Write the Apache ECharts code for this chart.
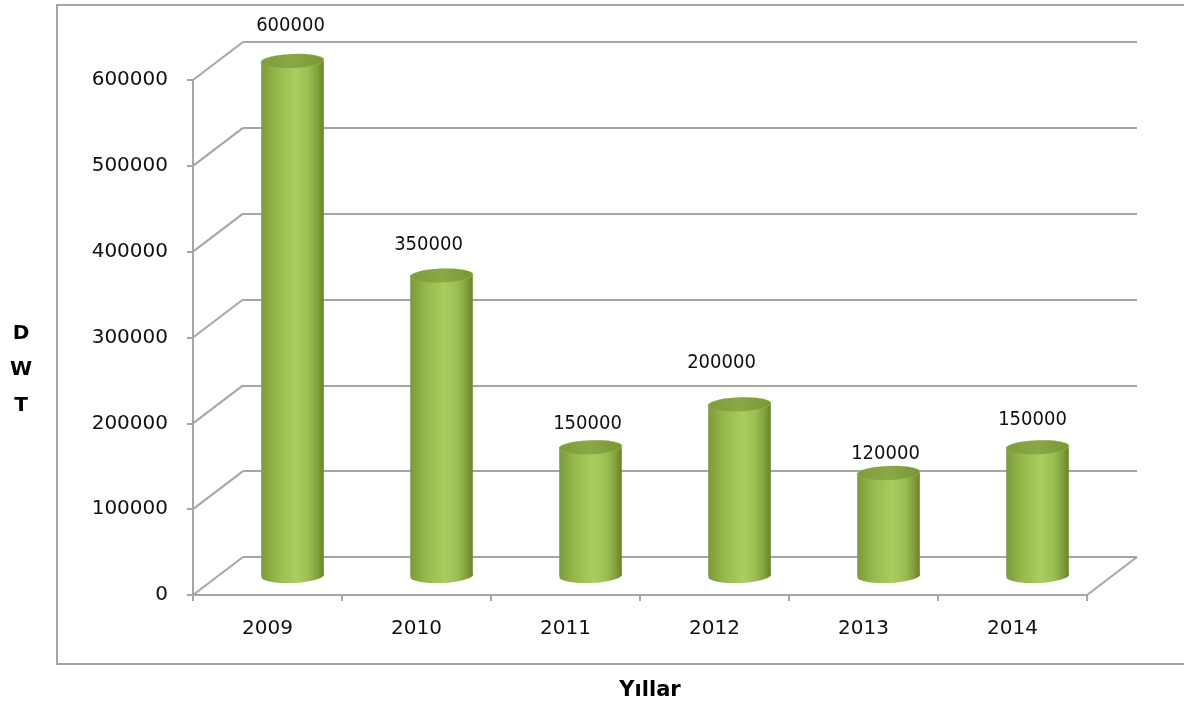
<!DOCTYPE html>
<html><head><meta charset="utf-8">
<script src="https://cdn.jsdelivr.net/npm/echarts@6/dist/echarts.min.js"></script>
<style>html,body{margin:0;padding:0;background:#fff}#chart{width:1184px;height:711px}</style>
</head><body><div id="chart"></div>
<script>
// ---- data ----
const categories = ['2009', '2010', '2011', '2012', '2013', '2014'];
const dwtValues = [600000, 350000, 150000, 200000, 120000, 150000];
const yTickValues = [0, 100000, 200000, 300000, 400000, 500000, 600000];
const xAxisTitle = 'Yıllar';
const yAxisTitle = 'D\nW\nT';

// ---- layout / style ----
const FRONT = { left: 193, right: 97, top: 80, bottom: 116 };
const DEPTH = { dx: 50, dy: -38 };
const BACK = { left: FRONT.left + DEPTH.dx, right: FRONT.right - DEPTH.dx, top: FRONT.top + DEPTH.dy, bottom: FRONT.bottom - DEPTH.dy };
const labelShift = [[-2, -35], [-13, -31], [-3, -23], [-18, -42], [-3, -19], [-5, -27]];
const GRID_COLOR = '#a6a6a6';
const TILT = 0.04;

const chart = echarts.init(document.getElementById('chart'), null, { renderer: 'canvas' });

function renderDiagonals(params, api) {
  const v = api.value(0);
  const cs = params.coordSys;
  const y = api.coord([0, v])[1];
  const style = { stroke: GRID_COLOR, lineWidth: 2, fill: null };
  const children = [{ type: 'line', shape: { x1: cs.x, y1: y, x2: cs.x + DEPTH.dx, y2: y + DEPTH.dy }, style }];
  if (v === 0) {
    children.push({ type: 'line', shape: { x1: cs.x + cs.width, y1: y, x2: cs.x + cs.width + DEPTH.dx, y2: y + DEPTH.dy }, style });
  }
  return { type: 'group', children };
}

function renderCylinder(params, api) {
  const i = api.value(0), v = api.value(1);
  const top = api.coord([i, v]);
  const base = api.coord([i, 0]);
  const cx = top[0] + DEPTH.dx / 2;
  const yT = top[1] + DEPTH.dy / 2;
  const yB = base[1] + DEPTH.dy / 2;
  const rx = api.size([1, 0])[0] * 0.21;
  const ry = 7;
  const bodyGrad = new echarts.graphic.LinearGradient(0, 0, 1, 0, [
    { offset: 0, color: '#7b9b38' },
    { offset: 0.25, color: '#96b94b' },
    { offset: 0.55, color: '#a9cd5e' },
    { offset: 0.75, color: '#9cbf54' },
    { offset: 0.9, color: '#82a13c' },
    { offset: 1, color: '#67812c' }
  ]);
  const topGrad = new echarts.graphic.LinearGradient(0, 0, 1, 0, [
    { offset: 0, color: '#7e9c3b' },
    { offset: 0.5, color: '#8aa944' },
    { offset: 1, color: '#7a9537' }
  ]);
  const sh = labelShift[i];
  return {
    type: 'group',
    children: [
      { type: 'circle', shape: { cx: 0, cy: 0, r: rx }, x: cx, y: yB, scaleY: ry / rx, rotation: TILT, style: { fill: bodyGrad } },
      { type: 'rect', shape: { x: cx - rx, y: yT, width: rx * 2, height: yB - yT }, style: { fill: bodyGrad } },
      { type: 'circle', shape: { cx: 0, cy: 0, r: rx }, x: cx, y: yT, scaleY: ry / rx, rotation: TILT, style: { fill: topGrad, stroke: '#94b44e', lineWidth: 1 } },
      { type: 'text', x: cx + sh[0], y: yT + sh[1], style: { text: String(v), align: 'center', verticalAlign: 'middle', fill: '#111', font: '20px "DejaVu Sans Condensed", "DejaVu Sans", sans-serif' } }
    ]
  };
}

const option = {
  animation: false,
  backgroundColor: '#ffffff',
  grid: [
    { left: FRONT.left, right: FRONT.right, top: FRONT.top, bottom: FRONT.bottom, containLabel: false },
    { left: BACK.left, right: BACK.right, top: BACK.top, bottom: BACK.bottom, containLabel: false }
  ],
  xAxis: [
    {
      type: 'category', gridIndex: 0, data: categories, boundaryGap: true,
      axisLine: { show: true, lineStyle: { color: GRID_COLOR, width: 2 } },
      axisTick: { show: true, length: 6, alignWithLabel: false, lineStyle: { color: GRID_COLOR, width: 2 } },
      axisLabel: { color: '#111', fontFamily: 'DejaVu Sans', fontSize: 20, margin: 24 },
      splitLine: { show: false }
    },
    {
      type: 'category', gridIndex: 1, data: categories, show: false
    }
  ],
  yAxis: [
    {
      type: 'value', gridIndex: 0, min: 0, max: 600000, interval: 100000,
      axisLine: { show: true, lineStyle: { color: GRID_COLOR, width: 2 } },
      axisTick: { show: true, length: 6, lineStyle: { color: GRID_COLOR, width: 2 } },
      axisLabel: { color: '#111', fontFamily: 'DejaVu Sans', fontSize: 20, margin: 25, formatter: v => String(v) },
      splitLine: { show: false }
    },
    {
      type: 'value', gridIndex: 1, min: 0, max: 600000, interval: 100000,
      axisLine: { show: false }, axisTick: { show: false }, axisLabel: { show: false },
      splitLine: { show: true, lineStyle: { color: GRID_COLOR, width: 2 } }
    }
  ],
  graphic: [
    { type: 'rect', shape: { x: 57, y: 5, width: 1160, height: 659 }, style: { fill: null, stroke: GRID_COLOR, lineWidth: 2 }, z: -1, silent: true },
    { type: 'text', x: 650, y: 691, style: { text: xAxisTitle, align: 'center', verticalAlign: 'middle', fill: '#000', font: 'bold 21px "DejaVu Sans", sans-serif' } },
    { type: 'text', x: 21, y: 370, style: { text: yAxisTitle, align: 'center', verticalAlign: 'middle', lineHeight: 36, fill: '#000', font: 'bold 20px "DejaVu Sans", sans-serif' } }
  ],
  series: [
    {
      type: 'custom', xAxisIndex: 0, yAxisIndex: 0, z: 1, silent: true,
      renderItem: renderDiagonals,
      data: yTickValues.map(v => [v])
    },
    {
      type: 'custom', xAxisIndex: 0, yAxisIndex: 0, z: 3, silent: true,
      renderItem: renderCylinder,
      encode: { x: 0, y: 1 },
      data: dwtValues.map((v, i) => [i, v])
    }
  ]
};
chart.setOption(option);
</script>
</body></html>
